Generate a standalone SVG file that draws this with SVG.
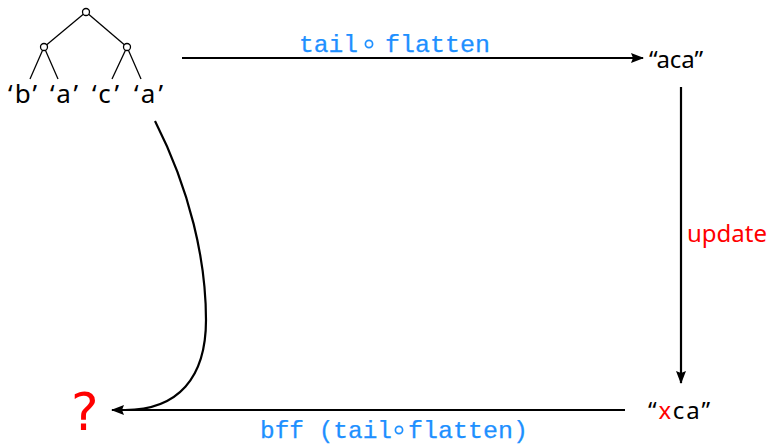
<svg xmlns="http://www.w3.org/2000/svg" width="773" height="444" viewBox="0 0 773 444">
<style>
.s{font-family:"Noto Sans","DejaVu Sans",sans-serif;fill:#000}
.m{font-family:"Liberation Mono",monospace;fill:#1E90FF;stroke:#1E90FF;stroke-width:0.25;font-size:24px}
.r{fill:#FF0000}
.ln{stroke:#000;stroke-width:1.3;fill:none}
.ar{stroke:#000;stroke-width:2.2;fill:none}
.nd{fill:#fff;stroke:#000;stroke-width:1.3}
.op{fill:none;stroke:#1E90FF;stroke-width:1.7}
</style>
<defs>
<marker id="ah" viewBox="0 0 13 10" refX="12" refY="5" markerWidth="13" markerHeight="10" markerUnits="userSpaceOnUse" orient="auto">
<path d="M0,0 L13,5 L0,10 L2,5 Z" fill="#000"/>
</marker>
</defs>
<g id="tree">
<line class="ln" x1="86" y1="12" x2="44" y2="47"/>
<line class="ln" x1="86" y1="12" x2="127" y2="47"/>
<line class="ln" x1="44" y1="47" x2="30" y2="79"/>
<line class="ln" x1="44" y1="47" x2="58" y2="79"/>
<line class="ln" x1="127" y1="47" x2="112" y2="79"/>
<line class="ln" x1="127" y1="47" x2="141" y2="79"/>
<circle class="nd" cx="86" cy="12" r="3.5"/>
<circle class="nd" cx="44" cy="47" r="3.5"/>
<circle class="nd" cx="127" cy="47" r="3.5"/>
<text class="s" font-size="26" x="8" y="103" textLength="29" lengthAdjust="spacing">‘b’</text>
<text class="s" font-size="26" x="50" y="103" textLength="28" lengthAdjust="spacing">‘a’</text>
<text class="s" font-size="26" x="92" y="103" textLength="27" lengthAdjust="spacing">‘c’</text>
<text class="s" font-size="26" x="134" y="103" textLength="29" lengthAdjust="spacing">‘a’</text>
</g>
<g id="aca">
<text class="s" font-size="24" x="649" y="68" textLength="54" lengthAdjust="spacing">“aca”</text>
</g>
<g id="xca">
<text class="s" font-size="24" x="648" y="419" textLength="62" lengthAdjust="spacing">“<tspan class="r">x</tspan>ca”</text>
</g>
<g id="q">
<text font-family="DejaVu Sans, sans-serif" fill="#FF0000" font-size="52" x="71" y="430">?</text>
</g>
<g id="connectors">
<line class="ar" x1="182" y1="58" x2="643" y2="58" marker-end="url(#ah)"/>
<line class="ar" x1="681" y1="87" x2="681" y2="383" marker-end="url(#ah)"/>
<line class="ar" x1="625" y1="410" x2="112" y2="410" marker-end="url(#ah)"/>
<path class="ar" d="M155,121 C190,190 206,260 206,320 C206,378 178,410 125,410"/>
<text class="m" x="299" y="52" textLength="59" lengthAdjust="spacingAndGlyphs">tail</text>
<circle class="op" cx="369" cy="44" r="3.6"/>
<text class="m" x="385" y="52" textLength="105" lengthAdjust="spacingAndGlyphs">flatten</text>
<text class="s r" font-size="24" x="687" y="242" textLength="80" lengthAdjust="spacing">update</text>
<text class="m" x="260" y="438" textLength="132" lengthAdjust="spacingAndGlyphs">bff (tail</text>
<circle class="op" cx="399" cy="430" r="3.6"/>
<text class="m" x="408" y="438" textLength="120" lengthAdjust="spacingAndGlyphs">flatten)</text>
</g>
</svg>
